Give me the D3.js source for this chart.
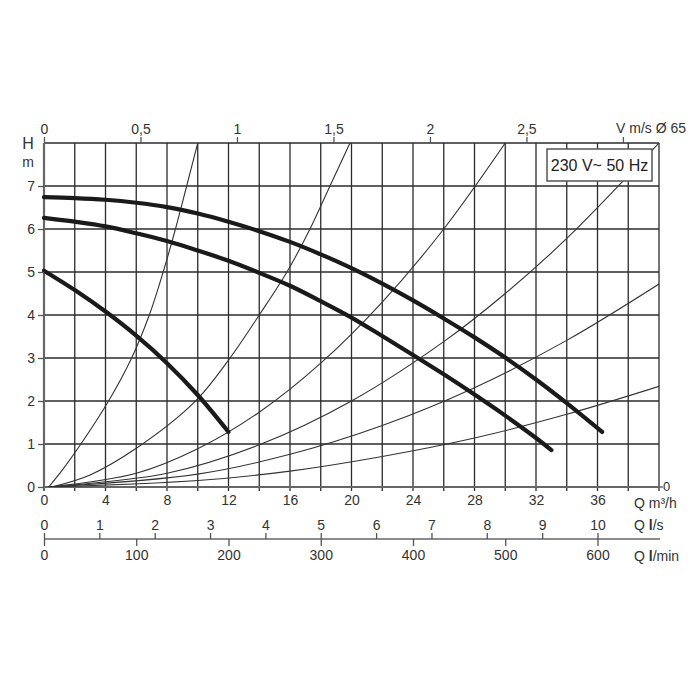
<!DOCTYPE html>
<html>
<head>
<meta charset="utf-8">
<script src="https://cdn.jsdelivr.net/npm/d3@7"></script>
<style>
  html, body { margin: 0; padding: 0; background: #fff; }
  svg { display: block; font-family: "Liberation Sans", Arial, sans-serif; }
  .tick text { fill: #333; font-size: 14px; }
</style>
</head>
<body>
<svg id="chart" width="700" height="700"></svg>
<script>
// ---- data ----
// pump curves: [Q m3/h, H m]
const pumpHigh = [[0,6.74],[2,6.72],[4,6.68],[6,6.61],[8,6.51],[10,6.36],[12,6.17],[14,5.95],[16,5.70],[18,5.41],[20,5.09],[22,4.73],[24,4.34],[26,3.92],[28,3.48],[30,3.01],[32,2.50],[34,1.95],[36.3,1.28]];
const pumpMid  = [[0,6.26],[2,6.17],[4,6.06],[6,5.90],[8,5.72],[10,5.50],[12,5.26],[14,4.98],[16,4.68],[18,4.32],[20,3.94],[22,3.51],[24,3.07],[26,2.62],[28,2.15],[30,1.66],[32,1.14],[33,0.86]];
const pumpLow  = [[0,5.03],[2,4.58],[4,4.08],[6,3.52],[8,2.88],[10,2.14],[12,1.28]];
// system (resistance) curves
const sys1 = [[0.3,0],[1.2,0.4],[2.4,1],[4.2,2],[5.7,3],[6.85,4],[7.75,5],[8.55,6],[9.28,7],[10,8]];
const sys2 = [[0.5,0],[3,0.28],[6,0.9],[9.8,1.98],[12.1,3],[14,4],[15.8,5],[17.3,6],[18.6,7],[19.9,8]];
const sys3 = [[0.3,0],[6,0.32],[10,0.89],[14,1.74],[18,2.88],[22,4.3],[26,6.0],[30,8.0]];
const sys4 = [[0.3,0],[8,0.32],[14,0.98],[20,2.0],[26,3.38],[30,4.5],[34,5.78],[40,8.0]];
const sys5 = [[0.3,0],[10,0.3],[16,0.76],[22,1.43],[28,2.31],[34,3.41],[40,4.72]];
const sys6 = [[0.3,0],[10,0.15],[16,0.37],[22,0.71],[28,1.14],[34,1.69],[40,2.34]];

// tick labels
const hTicks = [0,1,2,3,4,5,6,7];
const qTicks = [0,4,8,12,16,20,24,28,32,36];
const vTicks = [0,0.5,1,1.5,2,2.5,3];
const lsTicks = [0,1,2,3,4,5,6,7,8,9,10];
const lminTicks = [0,100,200,300,400,500,600];
const legendText = "230 V~ 50 Hz";

// ---- drawing ----
const svg = d3.select("#chart");
const L = 44, R = 659, T = 143, B = 487;
const x = d3.scaleLinear([0, 40], [L, R]);
const y = d3.scaleLinear([0, 8], [B, T]);
const v = d3.scaleLinear([0, 3.187], [L, R]);
const ls = d3.scaleLinear([0, 40 / 3.6], [L, R]);
const lmin = d3.scaleLinear([0, 40000 / 60], [L, R]);

// grid
const gridCol = "#2b2b2b";
svg.append("g").selectAll("line").data(d3.range(0, 41, 2)).join("line")
  .attr("x1", d => x(d)).attr("x2", d => x(d))
  .attr("y1", T).attr("y2", B + 4)
  .attr("stroke", gridCol).attr("stroke-width", 1.3);
svg.append("g").selectAll("line").data(d3.range(0, 9, 1)).join("line")
  .attr("x1", L).attr("x2", R)
  .attr("y1", d => y(d)).attr("y2", d => y(d))
  .attr("stroke", d => d === 0 ? "#666" : gridCol)
  .attr("stroke-width", d => d === 0 ? 2.2 : 1.3);
svg.append("line").attr("x1", L).attr("x2", L).attr("y1", T).attr("y2", B + 4)
  .attr("stroke", "#666").attr("stroke-width", 2.2);

// clip
svg.append("clipPath").attr("id", "plot").append("rect")
  .attr("x", L).attr("y", T).attr("width", R - L).attr("height", B - T);

const line = d3.line().x(d => x(d[0])).y(d => y(d[1])).curve(d3.curveCatmullRom.alpha(0.5));

// system curves
const gs = svg.append("g").attr("clip-path", "url(#plot)");
[sys1, sys2, sys3, sys4, sys5, sys6].forEach(s => {
  gs.append("path").attr("d", line(s)).attr("fill", "none")
    .attr("stroke", "#333").attr("stroke-width", 1.1);
});

// pump curves
[pumpHigh, pumpMid, pumpLow].forEach(s => {
  svg.append("path").attr("d", line(s)).attr("fill", "none")
    .attr("stroke", "#1a1a1a").attr("stroke-width", 4.2)
    .attr("stroke-linecap", "round").attr("stroke-linejoin", "round");
});

// left axis
const ax = svg.append("g").attr("transform", `translate(${L},0)`)
  .call(d3.axisLeft(y).tickValues(hTicks).tickSize(6).tickPadding(3).tickFormat(d3.format("d")));
ax.select(".domain").remove();
ax.selectAll(".tick line").attr("stroke", "#555").attr("stroke-width", 1.3);
svg.append("text").attr("x", 28).attr("y", 143).attr("dy", "0.35em")
  .attr("text-anchor", "middle").attr("font-size", 16).attr("fill", "#333").text("H");
svg.append("text").attr("x", 28).attr("y", 162).attr("dy", "0.35em")
  .attr("text-anchor", "middle").attr("font-size", 14).attr("fill", "#333").text("m");

// top axis (velocity)
const at = svg.append("g").attr("transform", `translate(0,${T})`)
  .call(d3.axisTop(v).tickValues(vTicks).tickSize(6).tickPadding(3)
    .tickFormat(d => d === 3 ? "" : String(d).replace(".", ",")));
at.select(".domain").remove();
at.selectAll(".tick line").attr("stroke", "#555").attr("stroke-width", 1.3);
svg.append("text").attr("x", 616).attr("y", 128).attr("dy", "0.35em")
  .attr("font-size", 14).attr("fill", "#333").text("V m/s Ø 65");

// bottom axis (m3/h)
const ab = svg.append("g").attr("transform", `translate(0,${B})`)
  .call(d3.axisBottom(x).tickValues(qTicks).tickSize(0).tickPadding(8).tickFormat(d3.format("d")));
ab.select(".domain").remove();
svg.append("text").attr("x", 634).attr("y", 503).attr("dy", "0.35em")
  .attr("font-size", 14).attr("fill", "#333").text("Q m³/h");
// right zero
svg.append("line").attr("x1", R).attr("x2", R + 4).attr("y1", B).attr("y2", B)
  .attr("stroke", "#555").attr("stroke-width", 1.3);
svg.append("text").attr("x", R + 4).attr("y", B - 1).attr("dy", "0.35em")
  .attr("font-size", 13).attr("fill", "#333").text("0");

// l/s axis
const Y2 = 539;
const als = svg.append("g").attr("transform", `translate(0,${Y2})`)
  .call(d3.axisTop(ls).tickValues(lsTicks).tickSize(6).tickSizeOuter(0).tickPadding(3).tickFormat(d3.format("d")));
als.select(".domain").attr("stroke", "#666").attr("stroke-width", 1.6)
  .attr("d", `M${L},0H${R + 1}`);
als.selectAll(".tick line").attr("stroke", "#555").attr("stroke-width", 1.3);
const tls = svg.append("text").attr("x", 634).attr("y", 525).attr("dy", "0.35em")
  .attr("font-size", 14).attr("fill", "#333");
tls.append("tspan").text("Q ");
tls.append("tspan").attr("font-weight", "bold").text("l");
tls.append("tspan").text("/s");

// l/min axis
const alm = svg.append("g").attr("transform", `translate(0,${Y2})`)
  .call(d3.axisBottom(lmin).tickValues(lminTicks).tickSize(7).tickPadding(4).tickFormat(d3.format("d")));
alm.select(".domain").remove();
alm.selectAll(".tick line").attr("stroke", "#555").attr("stroke-width", 1.3);
const tlm = svg.append("text").attr("x", 634).attr("y", 556).attr("dy", "0.35em")
  .attr("font-size", 14).attr("fill", "#333");
tlm.append("tspan").text("Q ");
tlm.append("tspan").attr("font-weight", "bold").text("l");
tlm.append("tspan").text("/min");

// legend box
svg.append("rect").attr("x", 547).attr("y", 149).attr("width", 105).attr("height", 32)
  .attr("fill", "#fff").attr("stroke", "#555").attr("stroke-width", 1.5);
svg.append("text").attr("x", 599.5).attr("y", 165).attr("dy", "0.35em")
  .attr("text-anchor", "middle").attr("font-size", 16).attr("fill", "#222").text(legendText);
</script>
</body>
</html>
